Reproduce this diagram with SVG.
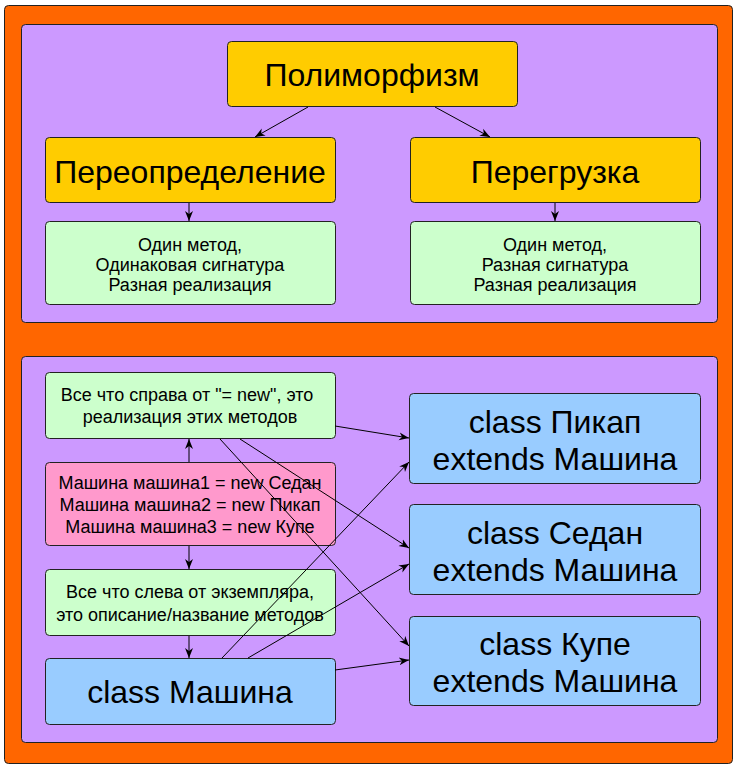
<svg xmlns="http://www.w3.org/2000/svg" width="737" height="768" viewBox="0 0 737 768">
<style>
.bx{stroke:#222;stroke-width:1}
.y{fill:#FFCC00}.g{fill:#CCFFCC}.p{fill:#FF99CC}.b{fill:#99CCFF}
text{font-family:"Liberation Sans",Arial,sans-serif;fill:#000;text-anchor:middle}
.big{font-size:32px}.sm{font-size:18px}
.c line{stroke:#000;stroke-width:1;marker-end:url(#ah)}
</style>
<defs>
<marker id="ah" viewBox="0 0 10 10" refX="10" refY="5" markerWidth="10" markerHeight="10" markerUnits="userSpaceOnUse" orient="auto">
<path d="M0,1 L10,5 L0,9 L3,5 z" fill="#000"/>
</marker>
</defs>
<rect x="4.5" y="5.5" width="728" height="758" rx="4" fill="#FF6600" stroke="#222"/>
<rect x="21.5" y="24.5" width="696" height="298" rx="4" fill="#CC99FF" stroke="#222"/>
<rect x="21.5" y="356.5" width="696" height="386" rx="4" fill="#CC99FF" stroke="#222"/>

<g id="poly"><rect class="bx y" x="227.5" y="41.5" width="290" height="65" rx="4"/><text class="big" x="372" y="86">Полиморфизм</text></g>
<g id="override"><rect class="bx y" x="45.5" y="137.5" width="290" height="65" rx="4"/><text class="big" x="190" y="183">Переопределение</text></g>
<g id="overload"><rect class="bx y" x="410.5" y="137.5" width="290" height="65" rx="4"/><text class="big" x="555" y="183">Перегрузка</text></g>
<g id="override-desc"><rect class="bx g" x="45.5" y="221.5" width="290" height="83" rx="4"/><text class="sm" x="190" y="251">Один метод,</text><text class="sm" x="190" y="271">Одинаковая сигнатура</text><text class="sm" x="190" y="291">Разная реализация</text></g>
<g id="overload-desc"><rect class="bx g" x="410.5" y="221.5" width="290" height="83" rx="4"/><text class="sm" x="555" y="251">Один метод,</text><text class="sm" x="555" y="271">Разная сигнатура</text><text class="sm" x="555" y="291">Разная реализация</text></g>

<g id="right-note"><rect class="bx g" x="45.5" y="372.5" width="290" height="66" rx="4"/><text class="sm" x="187" y="401">Все что справа от "= new", это</text><text class="sm" x="190" y="423">реализация этих методов</text></g>
<g id="code"><rect class="bx p" x="45.5" y="462.5" width="290" height="83" rx="4"/><text class="sm" x="190" y="489">Машина машина1 = new Седан</text><text class="sm" x="190" y="511">Машина машина2 = new Пикап</text><text class="sm" x="190" y="533">Машина машина3 = new Купе</text></g>
<g id="left-note"><rect class="bx g" x="45.5" y="569.5" width="290" height="66" rx="4"/><text class="sm" x="190" y="598">Все что слева от экземпляра,</text><text class="sm" x="190" y="621">это описание/название методов</text></g>
<g id="car"><rect class="bx b" x="45.5" y="658.5" width="290" height="66" rx="4"/><text class="big" x="190" y="703">class Машина</text></g>
<g id="pickup"><rect class="bx b" x="409.5" y="393.5" width="291" height="90" rx="4"/><text class="big" x="555" y="433">class Пикап</text><text class="big" x="555" y="470">extends Машина</text></g>
<g id="sedan"><rect class="bx b" x="409.5" y="504.5" width="291" height="90" rx="4"/><text class="big" x="555" y="544">class Седан</text><text class="big" x="555" y="581">extends Машина</text></g>
<g id="coupe"><rect class="bx b" x="409.5" y="616.5" width="291" height="89" rx="4"/><text class="big" x="555" y="655">class Купе</text><text class="big" x="555" y="692">extends Машина</text></g>

<g class="c" id="connectors">
<line x1="308" y1="107" x2="255" y2="137"/>
<line x1="435" y1="107" x2="490" y2="137"/>
<line x1="189" y1="203" x2="189" y2="221"/>
<line x1="555" y1="203" x2="555" y2="221"/>
<line x1="189" y1="462" x2="189" y2="439"/>
<line x1="189" y1="546" x2="189" y2="569"/>
<line x1="189" y1="636" x2="189" y2="658"/>
<line x1="335" y1="426" x2="409" y2="438"/>
<line x1="240" y1="439" x2="409" y2="548"/>
<line x1="220" y1="439" x2="409" y2="646"/>
<line x1="222" y1="658" x2="409" y2="462"/>
<line x1="248" y1="658" x2="409" y2="564"/>
<line x1="335" y1="670" x2="409" y2="660"/>
</g>
</svg>
